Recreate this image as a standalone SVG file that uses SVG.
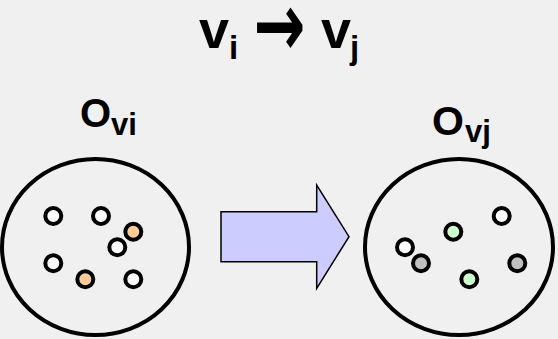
<svg xmlns="http://www.w3.org/2000/svg" width="558" height="339" viewBox="0 0 558 339">
  <style>
    .lbl { font-family: "Liberation Sans", Arial, sans-serif; font-weight: bold; fill: #000; }
    .sym { font-family: "DejaVu Sans", sans-serif; font-weight: bold; fill: #000; }
    .set { fill: none; stroke: #000; stroke-width: 4; }
    .obj { stroke: #000; stroke-width: 4; }
    .plain { fill: #ffffff; }
    .hot { fill: #ffcc99; }
    .new { fill: #ccffcc; }
    .old { fill: #c0c0c0; }
  </style>
  <rect x="0" y="0" width="558" height="339" fill="#f0f0f0"/>

  <!-- title: v_i -> v_j -->
  <g id="title">
    <text class="lbl" y="48" font-size="54"><tspan x="199">v</tspan><tspan x="229" y="59" font-size="33">i</tspan></text>
    <text class="sym" transform="translate(279.5 28) scale(1 1.45)" x="0" y="19.5" font-size="62" text-anchor="middle">→</text>
    <text class="lbl" y="48" font-size="54"><tspan x="321">v</tspan><tspan x="350" y="59" font-size="33">j</tspan></text>
  </g>

  <!-- source set O_vi -->
  <g id="set-vi">
    <text class="lbl" y="127" font-size="40"><tspan x="80">O</tspan><tspan x="111" y="135" font-size="31">vi</tspan></text>
    <ellipse class="set" cx="95.5" cy="247" rx="93.5" ry="88"/>
    <circle class="obj plain" cx="53.3" cy="216" r="8"/>
    <circle class="obj plain" cx="101" cy="216" r="8"/>
    <circle class="obj hot" cx="133.3" cy="231.7" r="8"/>
    <circle class="obj plain" cx="117.3" cy="247.3" r="8"/>
    <circle class="obj plain" cx="53.3" cy="263.3" r="8"/>
    <circle class="obj hot" cx="85.3" cy="279.3" r="8"/>
    <circle class="obj plain" cx="133.3" cy="279.3" r="8"/>
  </g>

  <!-- target set O_vj -->
  <g id="set-vj">
    <text class="lbl" y="135" font-size="41"><tspan x="432">O</tspan><tspan x="465" y="142" font-size="31">vj</tspan></text>
    <ellipse class="set" cx="459" cy="247" rx="94" ry="88"/>
    <circle class="obj plain" cx="501.7" cy="216" r="8"/>
    <circle class="obj new" cx="453.3" cy="231.7" r="8"/>
    <circle class="obj plain" cx="405" cy="247.3" r="8"/>
    <circle class="obj old" cx="421" cy="263.3" r="8"/>
    <circle class="obj new" cx="469.3" cy="279.3" r="8"/>
    <circle class="obj old" cx="517.3" cy="263.3" r="8"/>
  </g>

  <!-- transition arrow between the sets -->
  <g id="connectors">
    <polygon points="221,211.7 316.7,211.7 316.7,185 349,236.7 316.7,288.3 316.7,261.7 221,261.7" fill="#ccccff" stroke="#000" stroke-width="1.5" stroke-linejoin="miter"/>
  </g>
</svg>
